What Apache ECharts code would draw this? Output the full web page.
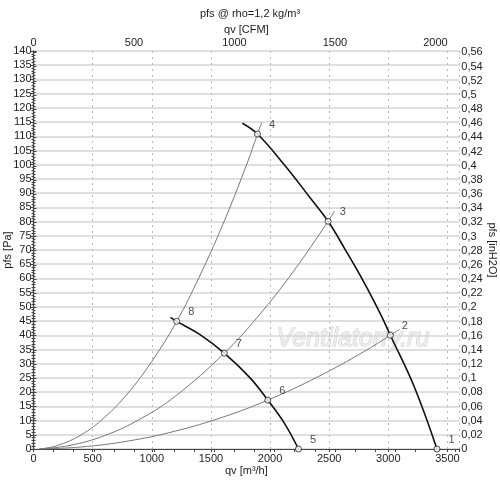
<!DOCTYPE html>
<html><head><meta charset="utf-8">
<script src="https://cdn.jsdelivr.net/npm/echarts@6/dist/echarts.min.js"></script>
<style>html,body{margin:0;padding:0;background:#fff}#c{width:500px;height:483px}</style>
</head><body><div id="c"></div>
<script>
// Fan curve, high speed (points 4-3-2-1)
var fanHighQv = [1766, 1894, 2122, 2342, 2491, 2629, 2792, 2938, 3017, 3219, 3411];
var fanHighP  = [114.6, 110.8, 99.9, 88.2, 80.1, 70.6, 58.8, 47.1, 40.0, 21.9, 0];
// Fan curve, low speed (points 8-7-6-5)
var fanLowQv = [1158, 1211, 1405, 1613, 1827, 1981, 2122, 2240];
var fanLowP  = [46.3, 44.9, 40.3, 33.7, 25.2, 17.2, 9.0, 0];
// System curves
var sysAQv = [50, 200, 400, 600, 800, 1000, 1211, 1400, 1600, 1800, 1894, 1930];
var sysAP  = [0, 1.2, 4.9, 11.1, 19.7, 30.8, 44.9, 60.4, 78.9, 99.8, 110.8, 114.8];
var sysBQv = [50, 300, 600, 900, 1200, 1613, 1900, 2200, 2491, 2545];
var sysBP  = [0, 1.2, 4.7, 10.5, 18.6, 33.7, 46.7, 62.6, 80.1, 83.7];
var sysCQv = [50, 400, 800, 1200, 1600, 1981, 2400, 2800, 3017, 3095];
var sysCP  = [0, 0.7, 2.8, 6.3, 11.2, 17.2, 25.3, 34.4, 40.0, 42.1];
// Operating points
var ptLabels = ['1', '2', '3', '4', '5', '6', '7', '8'];
var ptQv = [3411, 3017, 2491, 1894, 2240, 1981, 1613, 1211];
var ptP  = [0, 40.0, 80.1, 110.8, 0, 17.2, 33.7, 44.9];
// Axis ranges
var qvMax = 3600, pMax = 140;
var CFM_PER_M3H = 1 / 1.699;
var INH2O_PER_PA = 1 / 249.0889;

function zip(a, b) { return a.map(function (v, i) { return [v, b[i]]; }); }

var font = 'Liberation Sans, Arial, sans-serif';
var txt = { color: '#222', fontFamily: font, fontSize: 11 };
var axisLine = { show: true, lineStyle: { color: '#444', width: 1.2 } };

var chart = echarts.init(document.getElementById('c'), null, { renderer: 'canvas' });
chart.setOption({
  animation: false,
  backgroundColor: '#fff',
  title: { text: 'pfs @ rho=1,2 kg/m³', left: 'center', top: 3,
    textStyle: { color: '#222', fontFamily: font, fontSize: 11, fontWeight: 'normal' } },
  grid: { left: 33.5, right: 40.7, top: 51, bottom: 34, containLabel: false, outerBoundsMode: 'none' },
  graphic: [{
    type: 'text', left: 276, top: 326, z: -1, silent: true,
    style: { text: 'Ventilatorry.ru', fontSize: 25, fontStyle: 'italic', fontFamily: font,
      fill: '#eeeeee', stroke: '#cccccc', lineWidth: 1 }
  }],
  xAxis: [{
    type: 'value', position: 'bottom', min: 0, max: qvMax, interval: 500,
    name: 'qv [m³/h]', nameLocation: 'middle', nameGap: 16, nameMoveOverlap: false, nameTextStyle: txt,
    axisLine: axisLine,
    axisTick: { show: true, length: 3 },
    axisLabel: Object.assign({ margin: 4, formatter: function (v) { return v % 500 === 0 ? String(v) : ''; } }, txt),
    splitLine: { show: true, lineStyle: { color: '#bbb', type: [2, 4], width: 1 } }
  }, {
    type: 'value', position: 'top', min: 0, max: qvMax * CFM_PER_M3H, interval: 100,
    name: 'qv [CFM]', nameLocation: 'middle', nameGap: 16, nameMoveOverlap: false, nameTextStyle: txt,
    axisLine: axisLine,
    axisTick: { show: true, inside: true, length: 3 },
    axisLabel: Object.assign({ margin: 3, formatter: function (v) { return Math.abs(v % 500) < 1e-6 ? String(v) : ''; } }, txt),
    splitLine: { show: false }
  }],
  yAxis: [{
    type: 'value', position: 'left', min: 0, max: pMax, interval: 5,
    name: 'pfs [Pa]', nameLocation: 'middle', nameGap: 20, nameMoveOverlap: false, nameTextStyle: txt,
    axisLine: axisLine,
    axisTick: { show: true, length: 3 },
    minorTick: { show: true, splitNumber: 5, length: 2, lineStyle: { color: '#444' } },
    axisLabel: Object.assign({ margin: 2 }, txt),
    splitLine: { show: true, lineStyle: { color: '#d4d4d4', width: 1.5 } }
  }, {
    type: 'value', position: 'right', min: 0, max: pMax * INH2O_PER_PA, interval: 0.02,
    name: 'pfs [inH2O]', nameLocation: 'middle', nameGap: 27, nameRotate: -90, nameMoveOverlap: false, nameTextStyle: txt,
    axisLine: axisLine,
    axisTick: { show: true, length: 3 },
    minorTick: { show: true, splitNumber: 5, length: 2, lineStyle: { color: '#444' } },
    axisLabel: Object.assign({ margin: 2, formatter: function (v) {
      var n = v / 0.02; if (Math.abs(n - Math.round(n)) > 1e-6) return '';
      return String(+v.toFixed(2)).replace('.', ','); } }, txt),
    splitLine: { show: false }
  }],
  series: [
    { type: 'line', data: zip(sysAQv, sysAP), smooth: 0.4, showSymbol: false,
      lineStyle: { color: '#777', width: 1 }, z: 3 },
    { type: 'line', data: zip(sysBQv, sysBP), smooth: 0.4, showSymbol: false,
      lineStyle: { color: '#777', width: 1 }, z: 3 },
    { type: 'line', data: zip(sysCQv, sysCP), smooth: 0.4, showSymbol: false,
      lineStyle: { color: '#777', width: 1 }, z: 3 },
    { type: 'line', data: zip(fanHighQv, fanHighP), smooth: 0.4, showSymbol: false,
      lineStyle: { color: '#111', width: 1.6 }, z: 4 },
    { type: 'line', data: zip(fanLowQv, fanLowP), smooth: 0.4, showSymbol: false,
      lineStyle: { color: '#111', width: 1.6 }, z: 4 },
    { type: 'scatter', z: 5, symbol: 'circle', symbolSize: 6,
      itemStyle: { color: '#fff', borderColor: '#222', borderWidth: 1 },
      label: { show: true, position: 'right', offset: [3, -9], formatter: function (p) { return p.name; },
        color: '#222', fontFamily: font, fontSize: 11 },
      data: ptQv.map(function (q, i) { return { name: ptLabels[i], value: [q, ptP[i]] }; }) }
  ]
});
</script></body></html>
